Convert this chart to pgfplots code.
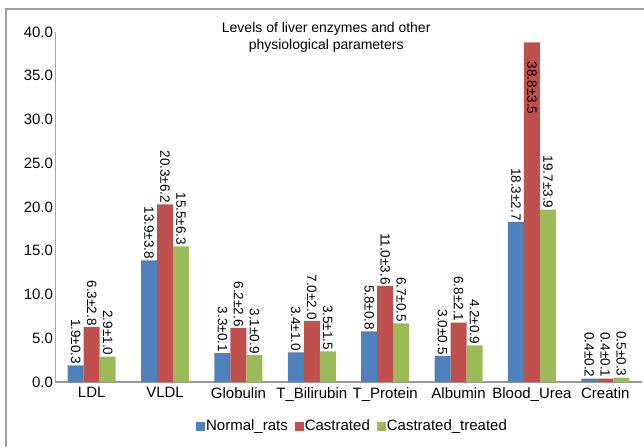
\documentclass[border=0pt]{standalone}
\usepackage{pgfplots}
\pgfplotsset{compat=1.18}
\usepackage{fontspec}
\setmainfont{Liberation Sans}
\definecolor{cblue}{RGB}{79,129,189}
\definecolor{cred}{RGB}{192,80,77}
\definecolor{cgreen}{RGB}{155,187,89}
\begin{document}
\begin{tikzpicture}[x=1pt,y=1pt]
\path[use as bounding box] (0,0) rectangle (644,447);
\draw[gray!75, line width=1.5pt] (6,0) -- (6,438) -- (644,438);
\begin{axis}[
  at={(55pt,65pt)}, anchor=south west,
  scale only axis, width=587pt, height=350pt,
  ymin=0, ymax=40, xmin=-0.5, xmax=7.5,
  ybar=0pt, bar width=16pt,
  axis x line*=bottom, axis y line*=left,
  x axis line style={-, gray!80, line width=1.5pt},
  y axis line style={-, gray!70, line width=0.8pt},
  major tick length=0pt,
  xtick={0,...,7},
  xticklabels={LDL,VLDL,Globulin,T\_Bilirubin,T\_Protein,Albumin,Blood\_Urea,Creatin},
  ytick={0,5,...,40},
  yticklabel style={/pgf/number format/fixed, /pgf/number format/fixed zerofill, /pgf/number format/precision=1},
  /pgf/number format/assume math mode=true,
  ticklabel style={font=\fontsize{15}{17}\selectfont},
  xticklabel style={yshift=-2pt},
  yticklabel style={xshift=1.5pt},
  nodes near coords, point meta=explicit symbolic,
  nodes near coords align={anchor=east},
  every node near coord/.append style={rotate=-90, font=\fontsize{13.5}{15}\selectfont, inner sep=1pt, text=black},
  title={Levels of liver enzymes and other\\physiological parameters},
  title style={at={(0.462,0.967)}, anchor=center, align=center, font=\fontsize{14}{17}\selectfont},
  legend style={at={(0.506,-0.126)}, anchor=center, draw=none, legend columns=3,
    font=\fontsize{15}{17}\selectfont, nodes={inner xsep=1pt},
    /tikz/every even column/.append style={column sep=6pt}},
  legend image code/.code={\fill[#1] (0pt,-4.5pt) rectangle (9pt,4.5pt);},
]
\addplot[fill=cblue, draw=none] coordinates {
 (0,1.9)[1.9±0.3] (1,13.9)[13.9±3.8] (2,3.3)[3.3±0.1] (3,3.4)[3.4±1.0]
 (4,5.8)[5.8±0.8] (5,3.0)[3.0±0.5] (6,18.3)[18.3±2.7] (7,0.4)[0.4±0.2]};
\addplot[fill=cred, draw=none] coordinates {
 (0,6.3)[6.3±2.8] (1,20.3)[20.3±6.2] (2,6.2)[6.2±2.6] (3,7.0)[7.0±2.0]
 (4,11.0)[11.0±3.6] (5,6.8)[6.8±2.1] (6,38.8)[{}] (7,0.4)[0.4±0.1]};
\addplot[fill=cgreen, draw=none] coordinates {
 (0,2.9)[2.9±1.0] (1,15.5)[15.5±6.3] (2,3.1)[3.1±0.9] (3,3.5)[3.5±1.5]
 (4,6.7)[6.7±0.5] (5,4.2)[4.2±0.9] (6,19.7)[19.7±3.9] (7,0.5)[0.5±0.3]};
\node[rotate=-90, anchor=west, inner sep=0pt, font=\fontsize{13.5}{15}\selectfont] at (axis cs:6,36.6) {38.8±3.5};
\legend{Normal\_rats, Castrated, Castrated\_treated}
\end{axis}
\end{tikzpicture}
\end{document}
